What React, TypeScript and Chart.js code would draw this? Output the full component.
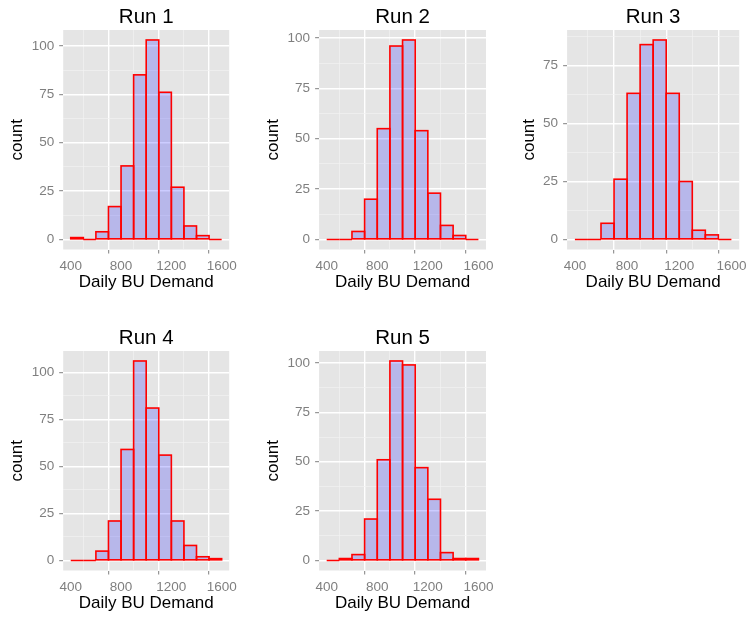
import React, { useEffect, useRef } from "react";
import { Chart, registerables } from "chart.js";

Chart.register(...registerables);

// ---------- data ----------
const binEdges = [400, 500, 600, 700, 800, 900, 1000, 1100, 1200, 1300, 1400, 1500, 1600];
const runTitles = ["Run 1", "Run 2", "Run 3", "Run 4", "Run 5"];
const run1 = [1, 0, 4, 17, 38, 85, 103, 76, 27, 7, 2, 0];
const run2 = [0, 0, 4, 20, 55, 96, 99, 54, 23, 7, 2, 0];
const run3 = [0, 0, 7, 26, 63, 84, 86, 63, 25, 4, 2, 0];
const run4 = [0, 0, 5, 21, 59, 106, 81, 56, 21, 8, 2, 1];
const run5 = [0, 1, 3, 21, 51, 101, 99, 47, 31, 4, 1, 1];
const runCounts = [run1, run2, run3, run4, run5];
const xMajorTicks = [400, 800, 1200, 1600];
const xMinorTicks = [600, 1000, 1400];
const yMajorTicks = [0, 25, 50, 75, 100];
const yMinorTicks = [12.5, 37.5, 62.5, 87.5];
const xTitle = "Daily BU Demand";
const yTitle = "count";

// ---------- layout / style ----------
const FONT = "'Liberation Sans', Arial, Helvetica, sans-serif";
const CANVAS_H = 300;
const PLOT_BOTTOM = 249.5;
const XTITLE_MID = 282.5;
const AXIS_TITLE_SIZE = 17;
const TICK_SIZE = 13.5;

type PanelLayout = {
  left: number;
  top: number;
  width: number;
  plotLeft: number;
  plotRight: number;
  yTitleGap: number;
};

const panels: PanelLayout[] = [
  { left: 0, top: 0, width: 250, plotLeft: 63.2, plotRight: 229.2, yTitleGap: 45.5 },
  { left: 250, top: 0, width: 250, plotLeft: 69.1, plotRight: 236, yTitleGap: 45.5 },
  { left: 500, top: 0, width: 252, plotLeft: 67.1, plotRight: 242, yTitleGap: 37.5 },
  { left: 0, top: 321, width: 250, plotLeft: 63.2, plotRight: 229.2, yTitleGap: 45.5 },
  { left: 250, top: 321, width: 250, plotLeft: 69.1, plotRight: 236, yTitleGap: 45.5 },
];

const bgPlugin = {
  id: "panelBg",
  beforeDraw(chart: any) {
    const { ctx, chartArea: a } = chart;
    ctx.save();
    ctx.fillStyle = "#E5E5E5";
    ctx.fillRect(a.left, a.top, a.right - a.left, a.bottom - a.top);
    ctx.restore();
  },
};

const outlinePlugin = {
  id: "barOutline",
  afterDatasetsDraw(chart: any) {
    const { ctx } = chart;
    const meta = chart.getDatasetMeta(0);
    ctx.save();
    ctx.strokeStyle = "#FF0000";
    ctx.lineWidth = 1.6;
    meta.data.forEach((el: any) => {
      const { x, y, base, width } = el.getProps(["x", "y", "base", "width"], true);
      ctx.strokeRect(x - width / 2, Math.min(y, base), width, Math.abs(base - y));
    });
    ctx.restore();
  },
};

function Panel({ index }: { index: number }) {
  const ref = useRef<HTMLCanvasElement>(null);
  const p = panels[index];

  useEffect(() => {
    if (!ref.current) return;
    const counts = runCounts[index];
    const maxC = Math.max(...counts);
    const yMin = -0.05 * maxC;
    const yMax = 1.05 * maxC;
    const xSpan = binEdges[binEdges.length - 1] - binEdges[0];
    const xMin = binEdges[0] - 0.05 * xSpan;
    const xMax = binEdges[binEdges.length - 1] + 0.05 * xSpan;
    const points = counts.map((c, i) => ({ x: (binEdges[i] + binEdges[i + 1]) / 2, y: c }));

    const xTickVals = [...xMajorTicks, ...xMinorTicks].sort((a, b) => a - b);
    const yTickVals = [...yMajorTicks, ...yMinorTicks]
      .filter((v) => v >= yMin && v <= yMax)
      .sort((a, b) => a - b);
    const isXMajor = (v: number) => xMajorTicks.includes(v);
    const isYMajor = (v: number) => yMajorTicks.includes(v);

    const gridColor = (major: (v: number) => boolean) => (ctx: any) =>
      ctx.tick && major(ctx.tick.value) ? "#FFFFFF" : "#F2F2F2";
    const gridWidth = (major: (v: number) => boolean) => (ctx: any) =>
      ctx.tick && major(ctx.tick.value) ? 1.4 : 0.7;
    const tickColor = (major: (v: number) => boolean) => (ctx: any) =>
      ctx.tick && major(ctx.tick.value) ? "#7F7F7F" : "rgba(0,0,0,0)";

    const chart = new Chart(ref.current, {
      type: "bar",
      data: {
        datasets: [
          {
            data: points,
            backgroundColor: "rgba(0,0,255,0.2)",
            borderWidth: 0,
            barPercentage: 1,
            categoryPercentage: 1,
            inflateAmount: 0,
          } as any,
        ],
      },
      options: {
        animation: false,
        responsive: false,
        maintainAspectRatio: false,
        layout: { padding: { left: 0, right: p.width - p.plotRight, top: 0, bottom: 0 } },
        plugins: {
          legend: { display: false },
          tooltip: { enabled: false },
          title: {
            display: true,
            text: runTitles[index],
            fullSize: false,
            color: "#000000",
            font: { family: FONT, size: 20.5, weight: "normal", lineHeight: 1.2 },
            padding: { top: 5.4, bottom: 0 },
          },
        },
        scales: {
          x: {
            type: "linear",
            min: xMin,
            max: xMax,
            offset: false,
            afterBuildTicks: (s: any) => {
              s.ticks = xTickVals.map((v) => ({ value: v }));
            },
            afterFit: (s: any) => {
              s.height = CANVAS_H - PLOT_BOTTOM;
            },
            ticks: {
              autoSkip: false,
              maxRotation: 0,
              minRotation: 0,
              padding: 5,
              color: "#7F7F7F",
              font: { family: FONT, size: TICK_SIZE },
              callback: (v: any) => (isXMajor(Number(v)) ? String(v) : ""),
            },
            grid: {
              color: gridColor(isXMajor),
              lineWidth: gridWidth(isXMajor),
              tickColor: tickColor(isXMajor),
              tickWidth: 1,
              tickLength: 4,
              drawTicks: true,
            },
            border: { display: false },
            title: {
              display: true,
              text: xTitle,
              color: "#000000",
              font: { family: FONT, size: AXIS_TITLE_SIZE, lineHeight: 1.2 },
              padding: { top: 0, bottom: CANVAS_H - XTITLE_MID - (AXIS_TITLE_SIZE * 1.2) / 2 },
            },
          },
          y: {
            type: "linear",
            min: yMin,
            max: yMax,
            afterBuildTicks: (s: any) => {
              s.ticks = yTickVals.map((v) => ({ value: v }));
            },
            afterFit: (s: any) => {
              s.width = p.plotLeft;
            },
            ticks: {
              autoSkip: false,
              padding: 5,
              color: "#7F7F7F",
              font: { family: FONT, size: TICK_SIZE },
              callback: (v: any) => (isYMajor(Number(v)) ? String(v) : ""),
            },
            grid: {
              color: gridColor(isYMajor),
              lineWidth: gridWidth(isYMajor),
              tickColor: tickColor(isYMajor),
              tickWidth: 1,
              tickLength: 4,
              drawTicks: true,
            },
            border: { display: false },
            title: {
              display: true,
              text: yTitle,
              color: "#000000",
              font: { family: FONT, size: AXIS_TITLE_SIZE, lineHeight: 1.2 },
              padding: {
                top: p.plotLeft - p.yTitleGap - (AXIS_TITLE_SIZE * 1.2) / 2,
                bottom: 0,
              },
            },
          },
        },
      } as any,
      plugins: [bgPlugin, outlinePlugin],
    });
    return () => chart.destroy();
  }, [index]);

  return (
    <canvas
      ref={ref}
      width={p.width}
      height={CANVAS_H}
      style={{ position: "absolute", left: p.left, top: p.top, width: p.width, height: CANVAS_H }}
    />
  );
}

export default function App() {
  return (
    <div
      style={{
        position: "absolute",
        left: 0,
        top: 0,
        width: 752,
        height: 618,
        overflow: "hidden",
        background: "#FFFFFF",
      }}
    >
      {runTitles.map((_, i) => (
        <Panel key={i} index={i} />
      ))}
    </div>
  );
}
